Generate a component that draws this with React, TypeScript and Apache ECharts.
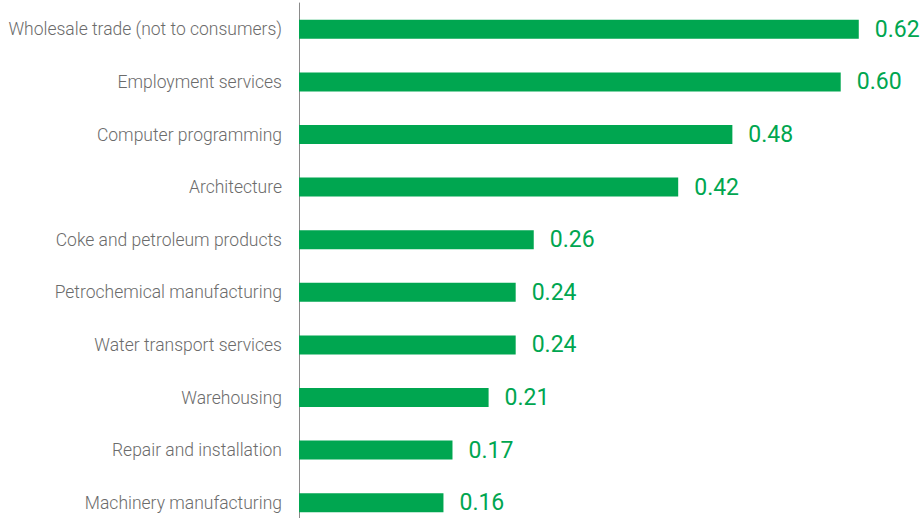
import React, { useEffect, useRef } from "react";
import * as echarts from "echarts";

const categories = [
  "Wholesale trade (not to consumers)",
  "Employment services",
  "Computer programming",
  "Architecture",
  "Coke and petroleum products",
  "Petrochemical manufacturing",
  "Water transport services",
  "Warehousing",
  "Repair and installation",
  "Machinery manufacturing",
];

const values = [0.62, 0.6, 0.48, 0.42, 0.26, 0.24, 0.24, 0.21, 0.17, 0.16];

const GREEN = "#00a650";

export default function App() {
  const ref = useRef<HTMLDivElement>(null);

  useEffect(() => {
    if (!ref.current) return;
    const chart = echarts.init(ref.current, null, { renderer: "svg" });
    chart.setOption({
      animation: false,
      grid: {
        left: 299,
        top: 3,
        width: 632,
        bottom: 1,
        outerBoundsMode: "none",
        containLabel: false,
      },
      xAxis: {
        type: "value",
        min: 0,
        max: 0.7,
        show: false,
      },
      yAxis: {
        type: "category",
        data: categories,
        inverse: true,
        axisLine: { show: true, lineStyle: { color: "#8a8a8a", width: 1 } },
        axisTick: { show: false },
        axisLabel: {
          margin: 17,
          color: "#6b6b6b",
          fontSize: 17.5,
          fontFamily: "Roboto",
          fontWeight: 300,
        },
      },
      series: [
        {
          type: "bar",
          data: values,
          barWidth: 19,
          itemStyle: { color: GREEN },
          label: {
            show: true,
            position: "right",
            distance: 16,
            color: GREEN,
            fontSize: 23,
            fontFamily: "Roboto",
            fontWeight: 400,
            formatter: (p: any) => Number(p.value).toFixed(2),
          },
        },
      ],
    });
    return () => chart.dispose();
  }, []);

  return (
    <div
      style={{
        position: "absolute",
        left: 0,
        top: 0,
        width: 924,
        height: 518,
        overflow: "hidden",
      }}
    >
      <div ref={ref} style={{ width: 940, height: 530 }} />
    </div>
  );
}
